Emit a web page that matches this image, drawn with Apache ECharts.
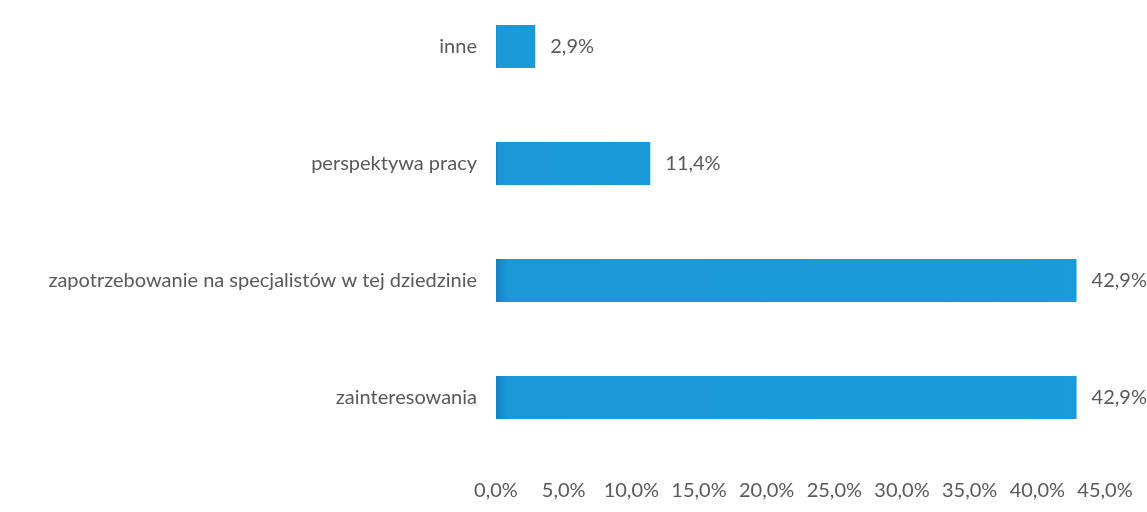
<!DOCTYPE html>
<html><head><meta charset="utf-8">
<script src="https://cdn.jsdelivr.net/npm/echarts@6/dist/echarts.min.js"></script>
<style>html,body{margin:0;padding:0;background:#fff;overflow:hidden}#c{width:1147px;height:524px;margin-top:-12px}</style>
</head><body><div id="c"></div>
<script>
const categories = ["inne", "perspektywa pracy", "zapotrzebowanie na specjalistów w tej dziedzinie", "zainteresowania"];
const values = [2.9, 11.4, 42.9, 42.9];
const xTicks = [0, 5, 10, 15, 20, 25, 30, 35, 40, 45];

const fmt = v => v.toFixed(1).replace('.', ',') + '%';
const chart = echarts.init(document.getElementById('c'));
chart.setOption({
  animation: false,
  textStyle: { fontFamily: 'Lato' },
  grid: { left: 496, right: 42, top: 0, bottom: 56, containLabel: false },
  xAxis: {
    type: 'value', min: xTicks[0], max: xTicks[xTicks.length - 1], interval: 5,
    axisLine: { show: false }, axisTick: { show: false }, splitLine: { show: false },
    axisLabel: { formatter: fmt, color: '#595959', fontSize: 20, margin: 25 }
  },
  yAxis: {
    type: 'category', data: categories, inverse: true,
    axisLine: { show: false }, axisTick: { show: false },
    axisLabel: { color: '#595959', fontSize: 20, margin: 19 }
  },
  series: [{
    type: 'bar', data: values, barWidth: 43,
    itemStyle: {
      color: new echarts.graphic.LinearGradient(0, 0, 1, 0, [
        { offset: 0, color: '#1480c4' }, { offset: 0.02, color: '#1b98d8' }, { offset: 1, color: '#1a9ad8' }
      ])
    },
    label: { show: true, position: 'right', distance: 15, formatter: p => fmt(p.value), color: '#595959', fontSize: 20 }
  }]
});
</script></body></html>
